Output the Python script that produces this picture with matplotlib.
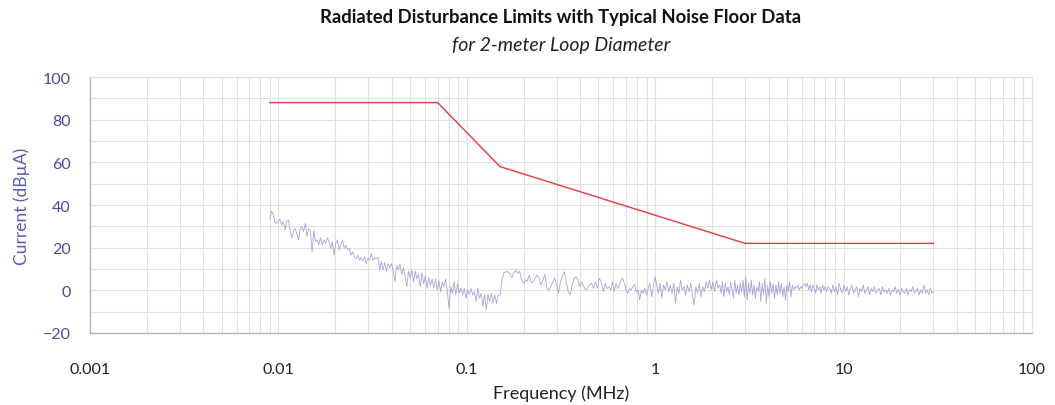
import numpy as np
import matplotlib
matplotlib.use("Agg")
import matplotlib.pyplot as plt
from matplotlib.ticker import LogLocator, FixedLocator, NullFormatter

# ---------------- data ----------------
# Limit line (frequency MHz, level dBuA)
limit_freq = [0.009, 0.07, 0.15, 3.0, 30.0]
limit_level = [88, 88, 58, 22, 22]

# Noise floor sweep in segments (start MHz, stop MHz, values dBuA)
noise_a_range = (0.009, 0.1466)
noise_a = [33.4, 37.1, 35.6, 31.8, 31.4, 32.2, 33.4, 30.6, 32.2, 28.2, 32.5, 33.0, 28.2, 24.7, 27.5,
           29.0, 26.7, 23.6, 29.0, 29.8, 27.5, 31.4, 25.1, 29.0, 28.0, 18.1, 28.0, 22.8, 23.6, 21.2,
           24.7, 21.2, 23.6, 22.0, 24.7, 22.8, 19.7, 22.8, 16.5, 22.0, 23.6, 19.0, 21.2, 23.6, 19.7,
           21.2, 19.0, 19.7, 16.5, 18.1, 15.7, 14.9, 16.5, 14.1, 15.2, 13.7, 15.7, 12.5, 15.2, 14.1,
           17.3, 14.1, 15.2,
           15.0, 15.5, 9.5, 13.7, 9.5, 13.0, 9.0, 12.5, 10.5, 12.5, 9.0, 4.0, 11.8, 9.5, 12.5,
           7.5, 10.5, 6.7, 1.7, 9.0, 6.0, 9.5, 4.0, 9.0, 5.3, 7.5, 1.7, 8.2, 3.1, 6.7, 0.9, 6.0,
           2.3, 5.3, 0.9, 5.3, 0.2, 4.5, -0.6, 3.9, 1.7, 5.3, -0.6, -8.4, 1.7, -1.4, 3.9, -2.2,
           3.1, -1.4, 0.9, -2.2, 0.9, -3.7, 0.2, -2.0, 0.9, -2.2, -0.6, -5.2, 0.9, -3.7, -1.4,
           -7.6, -2.0, -9.2, -2.0, -5.2, -1.4, -6.1, -2.2, -6.1, -2.2]

noise_b_range = (0.1504, 0.569)
noise_b = [-2.2, 5.6, 8.4, 8.7, 8.7, 7.9, 5.9, 8.4, 9.4, 7.9, 9.0, 4.8, 3.3, 4.8, 4.4, 7.2, 3.7,
           4.0, 5.6, 7.2, 5.6, 2.5, 4.8, 7.5, 0.9, 0.2, 1.7, 4.0, 5.9, 2.5, -1.4, 4.0, 6.4, 8.7,
           4.0, -0.6, -2.2, 2.5, 5.6, 6.4, 4.8, 1.7, 4.0, 1.7, 0.2, 0.9, 2.5, 3.3, 0.9, 4.0, 0.9,
           5.6, 4.0, -0.6, 3.3, 0.9, 1.7]

noise_c_range = (0.581, 2.154)
noise_c = [0.2, 4.0, -0.6, 3.3, 0.9, 2.5, 4.8, 5.6, 3.3, 0.2, -1.4, 0.9, 0.2, 1.7, 2.8, -0.6,
           0.2, -4.5, 0.2, -1.4, 0.9, -2.2, 0.9, 3.3, -3.0, 1.7, 6.4, 2.5, -1.4, 3.3, -3.7, 2.5,
           0.2, 4.0, -0.6, 2.5, -1.4, 3.3, -6.1, 1.7, -1.4, 4.8, 0.2, 1.7, -2.2, 2.5, -0.6, 3.3,
           -2.2, -6.9, 1.7, -1.4, 3.3, -3.0, 1.7, -0.6, 4.0, 0.9, 4.8, 0.2, 4.0, -0.6, 4.8, 0.9]

noise_d_range = (2.2, 8.26)
noise_d = [2.5, -1.4, 4.0, -3.0, 3.3, -0.6, 1.7, -2.2, 4.0, 0.2, -3.7, 4.8, -1.4, 2.5, -2.2,
           3.3, -0.6, 4.8, -3.0, 6.4, -4.5, 3.3, -1.4, 4.8, -2.2, 2.5, -3.7, 1.7, -0.6, 4.0,
           -5.2, 3.3, -2.2, 5.6, -6.1, 2.5, -3.0, 4.0, -1.4, 3.3, -3.7, 2.5, -2.2, 4.0, -1.4,
           3.3, -3.0, 1.7, -4.5, 2.5, -0.6, 4.0, -3.0, 2.5, 0.2, 1.7, 0.9, 2.5, 0.2, 1.7, 0.9,
           2.5, 3.3, 1.7, 3.3, 0.2, 2.5, -0.6, 2.5, 0.9, -1.4, 2.5, 0.2, 1.7, -1.4, 2.5, 0.2,
           1.7, -0.6, 1.7]

noise_e_range = (8.43, 30.0)
noise_e = [0.9, -1.4, 2.5, -0.6, 1.7, -2.2, 3.3, 0.2, -1.4, 2.5, -0.6, 1.7, -2.2, 0.9, 2.5,
           -1.4, 0.2, 1.7, -3.0, 0.9, -0.6, 2.5, -1.4, 0.2, 1.7, -2.2, 0.9, -0.6, 1.7, -1.4,
           0.2, 0.9, -2.2, 1.7, -0.6, 0.2, -1.4, 0.9, -2.2, 0.2, -0.6, 1.7, -1.4, 0.2, -2.2,
           0.9, -0.6, -1.4, 0.9, -2.2, 0.2, -0.6, 1.7, -1.4, -0.6, 0.9, -2.2, 0.2, -1.4, 2.5,
           -1.4, 0.2, -2.2, 0.9, -1.4, -0.6]

segments = [(noise_a_range, noise_a), (noise_b_range, noise_b), (noise_c_range, noise_c),
            (noise_d_range, noise_d), (noise_e_range, noise_e)]

noise_freq = np.concatenate([np.geomspace(r[0], r[1], len(v)) for r, v in segments])
noise_level = np.concatenate([np.asarray(v, float) for r, v in segments])

x_ticks = [0.001, 0.01, 0.1, 1, 10, 100]
x_ticklabels = ["0.001", "0.01", "0.1", "1", "10", "100"]
y_ticks = [-20, 0, 20, 40, 60, 80, 100]

title = "Radiated Disturbance Limits with Typical Noise Floor Data"
subtitle = "for 2-meter Loop Diameter"

# ---------------- plot ----------------
plt.rcParams['font.family'] = ['Lato', 'DejaVu Sans']

fig = plt.figure(figsize=(10.55, 4.06), dpi=100)
ax = fig.add_axes([90/1055, 1-334/406, (1032-90)/1055, (334-78)/406])

ax.plot(noise_freq, noise_level, color="#9696d0", lw=0.6, alpha=0.85, zorder=2)
ax.plot(limit_freq, limit_level, color="#e8383d", lw=1.0, zorder=3)

ax.set_xscale("log")
ax.set_xlim(0.001, 100)
ax.set_ylim(-20, 100)
ax.set_xticks(x_ticks)
ax.set_xticklabels(x_ticklabels)
ax.xaxis.set_minor_locator(LogLocator(base=10, subs=np.arange(2, 10)))
ax.xaxis.set_minor_formatter(NullFormatter())
ax.set_yticks(y_ticks)
ax.yaxis.set_minor_locator(FixedLocator(np.arange(-10, 100, 20)))

ax.grid(True, which="both", color="#e0e0e0", lw=0.8, zorder=0)
ax.set_axisbelow(True)
for s in ["top", "right"]:
    ax.spines[s].set_color("#e0e0e0")
    ax.spines[s].set_linewidth(0.8)
for s in ["left", "bottom"]:
    ax.spines[s].set_color("#b4b4b4")
    ax.spines[s].set_linewidth(1.0)

ax.tick_params(which="both", length=0)
ax.tick_params(axis="x", pad=21, labelsize=11.5, labelcolor="#222222")
ax.tick_params(axis="y", pad=14, labelsize=11.5, labelcolor="#4a4a9a")

ax.set_xlabel("Frequency (MHz)", fontsize=13, color="#222222", labelpad=6)
ax.set_ylabel("Current (dBµA)", fontsize=12.5, color="#5a5ab0", labelpad=9)

cx = 0.5 * (90 + 1032) / 1055
fig.text(cx, 1 - 18/406, title, ha="center", va="center",
         fontsize=13.3, fontweight="bold", color="#111111")
fig.text(cx, 1 - 46/406, subtitle, ha="center", va="center",
         fontsize=14, style="italic", color="#222222")

fig.savefig("out.png", dpi=100)
